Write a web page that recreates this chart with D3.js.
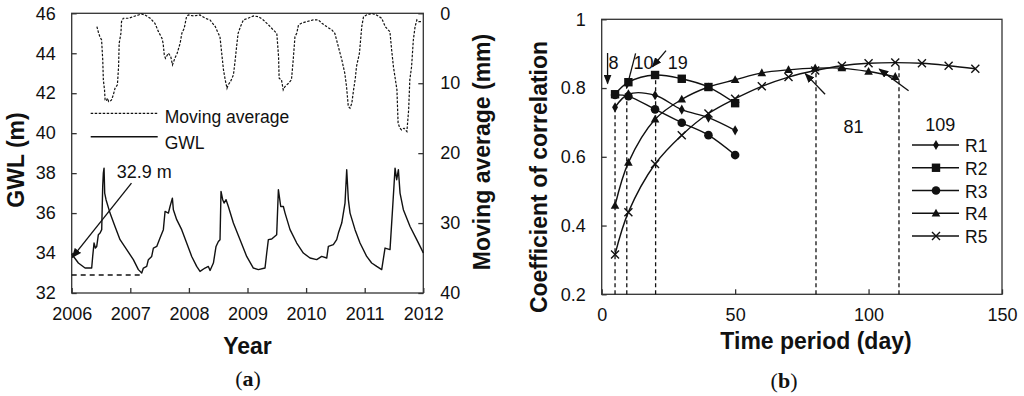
<!DOCTYPE html>
<html>
<head>
<meta charset="utf-8">
<script src="https://cdnjs.cloudflare.com/ajax/libs/d3/7.8.5/d3.min.js"></script>
<style>
    body { margin: 0; background: #fff; }
    svg { display: block; font-family: Arial, "Liberation Sans", sans-serif; }
</style>
</head>
<body>
<div id="chart"></div>
<script>
// ---- panel (a): groundwater level and moving average of rainfall ----
const yearTicks = [2006, 2007, 2008, 2009, 2010, 2011, 2012];
const gwlTicks = [32, 34, 36, 38, 40, 42, 44, 46];
const maTicks = [0, 10, 20, 30, 40];

const gwlYears = [2006.000, 2006.114, 2006.228, 2006.341, 2006.358, 2006.381, 2006.404, 2006.427, 2006.455, 2006.484,
    2006.512, 2006.529, 2006.540, 2006.552, 2006.563, 2006.586, 2006.654, 2006.739, 2006.825, 2006.939,
    2007.052, 2007.138, 2007.195, 2007.223, 2007.280, 2007.308, 2007.365, 2007.394, 2007.451, 2007.507,
    2007.564, 2007.593, 2007.650, 2007.678, 2007.718, 2007.735, 2007.792, 2007.877, 2007.962, 2008.048,
    2008.133, 2008.190, 2008.275, 2008.332, 2008.361, 2008.418, 2008.463, 2008.503, 2008.531, 2008.548,
    2008.577, 2008.600, 2008.634, 2008.673, 2008.759, 2008.873, 2008.986, 2009.100, 2009.185, 2009.299,
    2009.328, 2009.356, 2009.413, 2009.498, 2009.527, 2009.567, 2009.612, 2009.641, 2009.726, 2009.840,
    2009.953, 2010.067, 2010.181, 2010.266, 2010.352, 2010.380, 2010.465, 2010.522, 2010.551, 2010.608,
    2010.664, 2010.693, 2010.721, 2010.750, 2010.835, 2010.920, 2011.034, 2011.119, 2011.205, 2011.290,
    2011.347, 2011.432, 2011.478, 2011.518, 2011.546, 2011.575, 2011.603, 2011.660, 2011.774, 2011.888,
    2011.973, 2012.000];
const gwlLevels = [33.95, 33.50, 33.25, 33.25, 33.83, 34.50, 34.25, 34.33, 34.92, 35.00,
    35.17, 37.33, 38.00, 38.25, 37.00, 36.67, 36.00, 35.33, 34.67, 34.17,
    33.67, 33.17, 33.00, 33.25, 33.33, 33.67, 33.83, 34.25, 34.33, 34.75,
    35.17, 36.08, 36.00, 36.33, 36.75, 36.17, 35.67, 35.17, 34.50, 33.83,
    33.33, 33.08, 33.25, 33.33, 33.13, 33.50, 34.33, 34.58, 34.67, 37.08,
    36.67, 36.50, 36.67, 36.33, 35.50, 34.67, 33.83, 33.25, 33.17, 33.25,
    34.00, 34.67, 34.70, 34.92, 37.17, 36.33, 36.33, 36.00, 35.17, 34.50,
    34.00, 33.75, 33.67, 33.83, 33.75, 34.33, 34.42, 34.67, 35.00, 35.50,
    36.50, 38.17, 36.67, 36.00, 35.17, 34.50, 33.83, 33.50, 33.33, 33.17,
    34.25, 34.17, 36.33, 38.25, 37.67, 38.17, 37.00, 36.17, 35.33, 34.67,
    34.17, 34.00];

const maYears = [2006.43, 2006.46, 2006.48, 2006.51, 2006.53, 2006.54, 2006.56, 2006.57, 2006.59, 2006.61,
    2006.63, 2006.65, 2006.68, 2006.71, 2006.74, 2006.78, 2006.80, 2006.81, 2006.84, 2006.85,
    2006.88, 2006.97, 2007.05, 2007.14, 2007.19, 2007.25, 2007.34, 2007.42, 2007.48, 2007.54,
    2007.56, 2007.58, 2007.60, 2007.65, 2007.69, 2007.72, 2007.76, 2007.80, 2007.85, 2007.88,
    2007.92, 2007.96, 2007.99, 2008.08, 2008.19, 2008.28, 2008.36, 2008.45, 2008.50, 2008.53,
    2008.56, 2008.59, 2008.62, 2008.65, 2008.67, 2008.71, 2008.76, 2008.79, 2008.82, 2008.84,
    2008.88, 2008.93, 2009.01, 2009.10, 2009.19, 2009.27, 2009.36, 2009.44, 2009.50, 2009.53,
    2009.54, 2009.58, 2009.61, 2009.64, 2009.70, 2009.75, 2009.78, 2009.81, 2009.84, 2009.87,
    2009.92, 2010.01, 2010.12, 2010.21, 2010.27, 2010.35, 2010.44, 2010.49, 2010.55, 2010.61,
    2010.66, 2010.69, 2010.72, 2010.75, 2010.78, 2010.81, 2010.84, 2010.86, 2010.91, 2010.95,
    2010.98, 2011.03, 2011.12, 2011.20, 2011.29, 2011.35, 2011.40, 2011.43, 2011.46, 2011.49,
    2011.55, 2011.57, 2011.60, 2011.63, 2011.67, 2011.72, 2011.75, 2011.77, 2011.80, 2011.83,
    2011.86, 2011.89, 2011.92, 2011.96];
const maRain = [1.90, 2.86, 3.33, 3.81, 6.67, 9.52, 10.95, 12.38, 12.52, 12.14,
    12.62, 12.62, 12.38, 11.67, 10.71, 10.24, 7.62, 4.29, 2.86, 1.19,
    0.71, 0.71, 0.48, 0.24, 0.10, 0.24, 0.71, 1.43, 2.62, 3.57,
    4.29, 5.95, 6.43, 5.71, 6.19, 7.38, 6.43, 5.71, 4.29, 2.86,
    2.14, 0.48, 0.24, 0.38, 0.24, 0.71, 0.95, 1.90, 2.86, 3.33,
    5.71, 8.10, 9.52, 10.71, 10.24, 9.76, 8.81, 6.67, 4.29, 2.86,
    1.90, 0.95, 0.71, 0.38, 0.48, 0.95, 1.67, 2.38, 2.86, 6.19,
    9.29, 9.52, 10.95, 10.48, 10.00, 9.52, 6.67, 3.33, 2.86, 1.67,
    1.43, 1.19, 0.95, 0.95, 1.43, 1.90, 2.38, 2.86, 4.76, 6.67,
    8.57, 10.48, 13.33, 13.57, 12.86, 10.95, 9.29, 7.62, 5.71, 1.90,
    0.48, 0.24, 0.00, 0.24, 0.71, 1.90, 2.38, 2.62, 5.24, 7.62,
    10.95, 15.71, 16.43, 16.67, 16.43, 16.90, 13.81, 9.52, 7.62, 3.81,
    1.90, 0.95, 1.19, 1.19];

const minGwl = 32.9;            // dashed line and label value
const minGwlEndYear = 2007.2;

// ---- panel (b): correlation vs time period ----
const dayTicks = [0, 50, 100, 150];
const corrTicks = [0.2, 0.4, 0.6, 0.8, 1];

const r1Days = [5, 10, 20, 30, 40, 50];
const r1Corr = [0.744, 0.782, 0.779, 0.737, 0.714, 0.677];
const r2Days = [5, 10, 20, 30, 40, 50];
const r2Corr = [0.782, 0.817, 0.838, 0.827, 0.803, 0.756];
const r3Days = [5, 10, 20, 30, 40, 50];
const r3Corr = [0.780, 0.776, 0.738, 0.699, 0.663, 0.605];
const r4Days = [5, 10, 20, 30, 40, 50, 60, 70, 80, 90, 100, 110];
const r4Corr = [0.458, 0.583, 0.709, 0.767, 0.803, 0.824, 0.844, 0.853, 0.858, 0.858, 0.848, 0.833];
const r5Days = [5, 10, 20, 30, 40, 50, 60, 70, 80, 90, 100, 110, 120, 130, 140];
const r5Corr = [0.316, 0.439, 0.579, 0.663, 0.726, 0.769, 0.805, 0.832, 0.851, 0.865, 0.872, 0.874, 0.872, 0.865, 0.856];

// peak positions marked with dashed drop lines
const peakDays = [5, 9.4, 20.2, 80.3, 111.4];
const peakCorr = [0.745, 0.782, 0.838, 0.850, 0.870];

// annotation labels and arrows (tail -> head, in data units)
const peakLabels = ['8', '10', '19', '81', '109'];
const labelDays = [4.4, 15.7, 28.5, 94.4, 126.9];
const labelCorr = [0.872, 0.872, 0.872, 0.688, 0.692];
const arrowFrom = [[2.2, 0.902], [12.7, 0.901], [24.1, 0.909], [83.7, 0.782], [115.0, 0.792]];
const arrowTo = [[2.2, 0.813], [9.3, 0.799], [19.0, 0.862], [76.3, 0.842], [104.0, 0.855]];

const seriesNames = ['R1', 'R2', 'R3', 'R4', 'R5'];

// ---------------------------------------------------------------
const W = 1024, H = 396;
const ink = '#111';
const axisInk = '#333';

const svg = d3.select('#chart').append('svg')
    .attr('width', W)
    .attr('height', H)
    .attr('viewBox', `0 0 ${W} ${H}`);

svg.append('rect').attr('width', W).attr('height', H).attr('fill', '#fff');

const defs = svg.append('defs');
defs.append('marker')
    .attr('id', 'head')
    .attr('viewBox', '0 0 10 8')
    .attr('refX', 9).attr('refY', 4)
    .attr('markerWidth', 10).attr('markerHeight', 8)
    .attr('markerUnits', 'userSpaceOnUse')
    .attr('orient', 'auto')
    .append('path')
    .attr('d', 'M0,0 L10,4 L0,8 Z')
    .attr('fill', ink);

function styleAxis(g) {
    g.select('.domain').remove();
    g.selectAll('.tick line').attr('stroke', axisInk).attr('stroke-width', 1.3);
    g.selectAll('.tick text').attr('fill', ink).style('font-size', '18px');
}

function frame(g, w, h) {
    g.append('rect')
        .attr('width', w).attr('height', h)
        .attr('fill', 'none')
        .attr('stroke', axisInk)
        .attr('stroke-width', 1.3);
}

function drawPanelA() {
    const box = { left: 71.7, right: 423.3, top: 13.3, bottom: 293 };
    const w = box.right - box.left, h = box.bottom - box.top;
    const g = svg.append('g').attr('transform', `translate(${box.left},${box.top})`);

    const x = d3.scaleLinear().domain([2006, 2012]).range([0, w]);
    const y = d3.scaleLinear().domain([32, 46]).range([h, 0]);
    const yMa = d3.scaleLinear().domain([0, 40]).range([0, h]);

    g.append('g')
        .call(d3.axisLeft(y).tickValues(gwlTicks).tickSizeInner(-5).tickSizeOuter(0).tickPadding(16))
        .call(styleAxis);
    g.append('g')
        .attr('transform', `translate(${w},0)`)
        .call(d3.axisRight(yMa).tickValues(maTicks).tickSizeInner(-5).tickSizeOuter(0).tickPadding(17))
        .call(styleAxis);
    g.append('g')
        .attr('transform', `translate(0,${h})`)
        .call(d3.axisBottom(x).tickValues(yearTicks).tickFormat(d3.format('d'))
            .tickSizeInner(-5).tickSizeOuter(0).tickPadding(14))
        .call(styleAxis);
    frame(g, w, h);

    // moving average (right axis, inverted)
    g.append('path')
        .datum(maYears.map((d, i) => [d, maRain[i]]))
        .attr('fill', 'none')
        .attr('stroke', ink)
        .attr('stroke-width', 1.2)
        .attr('stroke-dasharray', '2.5,1.5')
        .attr('d', d3.line().x(d => x(d[0])).y(d => yMa(d[1])));

    // groundwater level
    g.append('path')
        .datum(gwlYears.map((d, i) => [d, gwlLevels[i]]))
        .attr('fill', 'none')
        .attr('stroke', ink)
        .attr('stroke-width', 1.4)
        .attr('stroke-linejoin', 'round')
        .attr('d', d3.line().x(d => x(d[0])).y(d => y(d[1])));

    // minimum level line
    g.append('line')
        .attr('x1', x(2006)).attr('x2', x(minGwlEndYear))
        .attr('y1', y(minGwl)).attr('y2', y(minGwl))
        .attr('stroke', ink).attr('stroke-width', 1.3)
        .attr('stroke-dasharray', '5,4');

    // annotation arrow
    g.append('line')
        .attr('x1', x(2007.02)).attr('y1', y(37.5))
        .attr('x2', x(2006.01)).attr('y2', y(33.78))
        .attr('stroke', ink).attr('stroke-width', 1.3)
        .attr('marker-end', 'url(#head)');
    g.append('text')
        .attr('x', x(2006.77)).attr('y', y(38.08))
        .attr('dominant-baseline', 'central')
        .attr('fill', ink)
        .style('font-size', '18px')
        .text(`${minGwl} m`);

    // legend
    const leg = g.append('g').attr('transform', 'translate(19,100)');
    leg.append('line').attr('x1', 0).attr('x2', 67).attr('y1', 0).attr('y2', 0)
        .attr('stroke', ink).attr('stroke-width', 1.2).attr('stroke-dasharray', '2.5,1.5');
    leg.append('text').attr('x', 74).attr('y', 4).attr('dominant-baseline', 'central')
        .attr('fill', ink).style('font-size', '17.5px').text('Moving average');
    leg.append('line').attr('x1', 0).attr('x2', 67).attr('y1', 23.4).attr('y2', 23.4)
        .attr('stroke', ink).attr('stroke-width', 1.4);
    leg.append('text').attr('x', 74).attr('y', 30).attr('dominant-baseline', 'central')
        .attr('fill', ink).style('font-size', '17.5px').text('GWL');

    // axis titles
    svg.append('text')
        .attr('transform', `translate(16,160) rotate(-90)`)
        .attr('text-anchor', 'middle').attr('dominant-baseline', 'central')
        .style('font-size', '23px').style('font-weight', 'bold').attr('fill', ink)
        .text('GWL (m)');
    svg.append('text')
        .attr('transform', `translate(482,152) rotate(-90)`)
        .attr('text-anchor', 'middle').attr('dominant-baseline', 'central')
        .style('font-size', '23px').style('font-weight', 'bold').attr('fill', ink)
        .text('Moving average (mm)');
    svg.append('text')
        .attr('x', box.left + w / 2).attr('y', 346)
        .attr('text-anchor', 'middle').attr('dominant-baseline', 'central')
        .style('font-size', '23px').style('font-weight', 'bold').attr('fill', ink)
        .text('Year');

    const cap = svg.append('text')
        .attr('x', 248).attr('y', 378)
        .attr('text-anchor', 'middle').attr('dominant-baseline', 'central')
        .style('font-family', '"Liberation Serif", "Times New Roman", serif')
        .style('font-size', '22px').attr('fill', ink);
    cap.append('tspan').text('(');
    cap.append('tspan').style('font-weight', 'bold').text('a');
    cap.append('tspan').text(')');
}

function drawMarker(sel, type) {
    const s = sel.attr('fill', ink).attr('stroke', ink);
    if (type === 'R1') {
        s.append('path').attr('d', d3.symbol(d3.symbolDiamond, 30)).attr('stroke', 'none');
    } else if (type === 'R2') {
        s.append('rect').attr('x', -4.2).attr('y', -4.2).attr('width', 8.4).attr('height', 8.4).attr('stroke', 'none');
    } else if (type === 'R3') {
        s.append('circle').attr('r', 4.3).attr('stroke', 'none');
    } else if (type === 'R4') {
        s.append('path').attr('d', 'M0,-4.6 L4.3,3.2 L-4.3,3.2 Z').attr('stroke', 'none');
    } else {
        s.append('path').attr('d', 'M-4,-4 L4,4 M-4,4 L4,-4')
            .attr('fill', 'none').attr('stroke-width', 1.4);
    }
}

function drawPanelB() {
    const box = { left: 601.7, right: 1002, top: 19.3, bottom: 294.3 };
    const w = box.right - box.left, h = box.bottom - box.top;
    const g = svg.append('g').attr('transform', `translate(${box.left},${box.top})`);

    const x = d3.scaleLinear().domain([0, 150]).range([0, w]);
    const y = d3.scaleLinear().domain([0.2, 1]).range([h, 0]);

    g.append('g')
        .call(d3.axisLeft(y).tickValues(corrTicks)
            .tickFormat(d => d === 1 ? '1' : d3.format('.1f')(d))
            .tickSizeInner(-5).tickSizeOuter(0).tickPadding(16))
        .call(styleAxis);
    g.append('g')
        .attr('transform', `translate(0,${h})`)
        .call(d3.axisBottom(x).tickValues(dayTicks).tickSizeInner(-5).tickSizeOuter(0).tickPadding(14))
        .call(styleAxis);
    frame(g, w, h);

    // drop lines at the peaks
    g.selectAll('.drop')
        .data(peakDays)
        .enter().append('line')
        .attr('class', 'drop')
        .attr('x1', d => x(d)).attr('x2', d => x(d))
        .attr('y1', h).attr('y2', (d, i) => y(peakCorr[i]))
        .attr('stroke', ink).attr('stroke-width', 1.3)
        .attr('stroke-dasharray', '4,3');

    const series = [
        { name: 'R1', days: r1Days, corr: r1Corr },
        { name: 'R2', days: r2Days, corr: r2Corr },
        { name: 'R3', days: r3Days, corr: r3Corr },
        { name: 'R4', days: r4Days, corr: r4Corr },
        { name: 'R5', days: r5Days, corr: r5Corr }
    ];

    const line = d3.line()
        .x(d => x(d[0])).y(d => y(d[1]))
        .curve(d3.curveCatmullRom.alpha(0.5));

    series.forEach(s => {
        const pts = s.days.map((d, i) => [d, s.corr[i]]);
        g.append('path')
            .datum(pts)
            .attr('fill', 'none')
            .attr('stroke', ink)
            .attr('stroke-width', 1.4)
            .attr('d', line);
        g.selectAll(null)
            .data(pts)
            .enter().append('g')
            .attr('transform', d => `translate(${x(d[0])},${y(d[1])})`)
            .each(function () { drawMarker(d3.select(this), s.name); });
    });

    // arrows + labels
    arrowFrom.forEach((a, i) => {
        g.append('line')
            .attr('x1', x(a[0])).attr('y1', y(a[1]))
            .attr('x2', x(arrowTo[i][0])).attr('y2', y(arrowTo[i][1]))
            .attr('stroke', ink).attr('stroke-width', 1.3)
            .attr('marker-end', 'url(#head)');
    });
    g.selectAll('.peak-label')
        .data(peakLabels)
        .enter().append('text')
        .attr('class', 'peak-label')
        .attr('x', (d, i) => x(labelDays[i]))
        .attr('y', (d, i) => y(labelCorr[i]))
        .attr('text-anchor', 'middle').attr('dominant-baseline', 'central')
        .attr('fill', ink).style('font-size', '18px')
        .text(d => d);

    // legend
    const leg = g.selectAll('.leg')
        .data(seriesNames)
        .enter().append('g')
        .attr('class', 'leg')
        .attr('transform', (d, i) => `translate(${310.3},${125.7 + i * 22.75})`);
    leg.append('line').attr('x1', 0).attr('x2', 47).attr('stroke', ink).attr('stroke-width', 1.4);
    leg.append('g').attr('transform', 'translate(24,0)').each(function (d) { drawMarker(d3.select(this), d); });
    leg.append('text').attr('x', 53).attr('y', 1).attr('dominant-baseline', 'central')
        .attr('fill', ink).style('font-size', '17.5px').text(d => d);

    // axis titles
    svg.append('text')
        .attr('transform', `translate(539,177) rotate(-90)`)
        .attr('text-anchor', 'middle').attr('dominant-baseline', 'central')
        .style('font-size', '23px').style('font-weight', 'bold').attr('fill', ink)
        .text('Coefficient of correlation');
    svg.append('text')
        .attr('x', 816).attr('y', 341)
        .attr('text-anchor', 'middle').attr('dominant-baseline', 'central')
        .style('font-size', '23px').style('font-weight', 'bold').attr('fill', ink)
        .text('Time period (day)');

    const cap = svg.append('text')
        .attr('x', 784).attr('y', 380)
        .attr('text-anchor', 'middle').attr('dominant-baseline', 'central')
        .style('font-family', '"Liberation Serif", "Times New Roman", serif')
        .style('font-size', '22px').attr('fill', ink);
    cap.append('tspan').text('(');
    cap.append('tspan').style('font-weight', 'bold').text('b');
    cap.append('tspan').text(')');
}

drawPanelA();
drawPanelB();
</script>
</body>
</html>
